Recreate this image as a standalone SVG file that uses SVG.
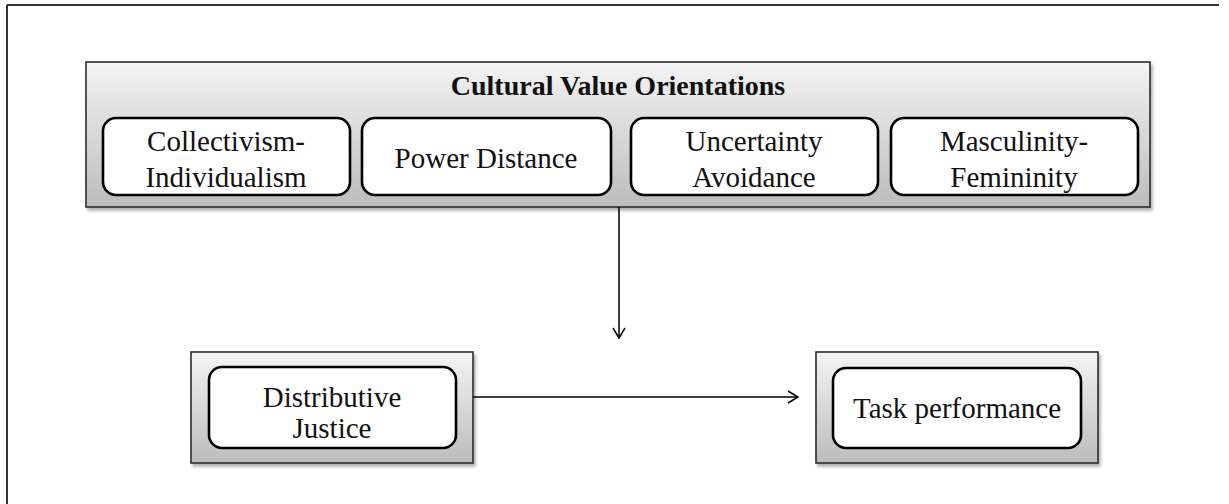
<svg xmlns="http://www.w3.org/2000/svg" width="1229" height="504" viewBox="0 0 1229 504">
<style>
.panel{fill:url(#g);stroke:#2b2b2b;stroke-width:1.6}
.box{fill:#fff;stroke:#000;stroke-width:2.6}
.t{font-family:"Liberation Serif","Times New Roman",serif;font-size:29px;fill:#111;text-anchor:middle}
.title{font-family:"Liberation Serif","Times New Roman",serif;font-size:28px;font-weight:bold;fill:#111;text-anchor:middle}
.c{stroke:#000;stroke-width:1.5;fill:none}
</style>
<defs>
<linearGradient id="g" x1="0" y1="0" x2="0" y2="1">
<stop offset="0" stop-color="#f4f4f4"/>
<stop offset="1" stop-color="#bcbcbc"/>
</linearGradient>
<filter id="sh" x="-5%" y="-5%" width="110%" height="115%">
<feDropShadow dx="2" dy="3" stdDeviation="1.5" flood-color="#000" flood-opacity="0.3"/>
</filter>
<marker id="ah" markerWidth="14" markerHeight="14" refX="11" refY="7" orient="auto" markerUnits="userSpaceOnUse">
<path d="M1,1 L11,7 L1,13" fill="none" stroke="#000" stroke-width="1.5"/>
</marker>
</defs>
<g id="frame">
<line x1="7" y1="5" x2="1219" y2="5" stroke="#333" stroke-width="2"/>
<line x1="7" y1="5" x2="7" y2="504" stroke="#333" stroke-width="2"/>
</g>
<g id="cultural-value-orientations">
<rect class="panel" x="86" y="62" width="1064" height="145" filter="url(#sh)"/>
<text class="title" x="618" y="95">Cultural Value Orientations</text>
<g id="collectivism">
<rect class="box" x="103" y="118" width="247" height="77" rx="13"/>
<text class="t" x="226" y="151">Collectivism-</text>
<text class="t" x="226" y="187">Individualism</text>
</g>
<g id="power-distance">
<rect class="box" x="362" y="118" width="249" height="77" rx="13"/>
<text class="t" x="486" y="168">Power Distance</text>
</g>
<g id="uncertainty">
<rect class="box" x="631" y="118" width="247" height="77" rx="13"/>
<text class="t" x="754" y="151">Uncertainty</text>
<text class="t" x="754" y="187">Avoidance</text>
</g>
<g id="masculinity">
<rect class="box" x="891" y="118" width="247" height="77" rx="13"/>
<text class="t" x="1014" y="151">Masculinity-</text>
<text class="t" x="1014" y="187">Femininity</text>
</g>
</g>
<g id="distributive-justice">
<rect class="panel" x="191" y="352" width="282" height="111" filter="url(#sh)"/>
<rect class="box" x="209" y="367" width="247" height="81" rx="13"/>
<text class="t" x="332" y="407">Distributive</text>
<text class="t" x="332" y="438">Justice</text>
</g>
<g id="task-performance">
<rect class="panel" x="816" y="352" width="282" height="111" filter="url(#sh)"/>
<rect class="box" x="833" y="368" width="248" height="80" rx="13"/>
<text class="t" x="957" y="418">Task performance</text>
</g>
<g id="connectors">
<line class="c" x1="619" y1="207" x2="619" y2="338" marker-end="url(#ah)"/>
<line class="c" x1="473" y1="397" x2="798" y2="397" marker-end="url(#ah)"/>
</g>
</svg>
